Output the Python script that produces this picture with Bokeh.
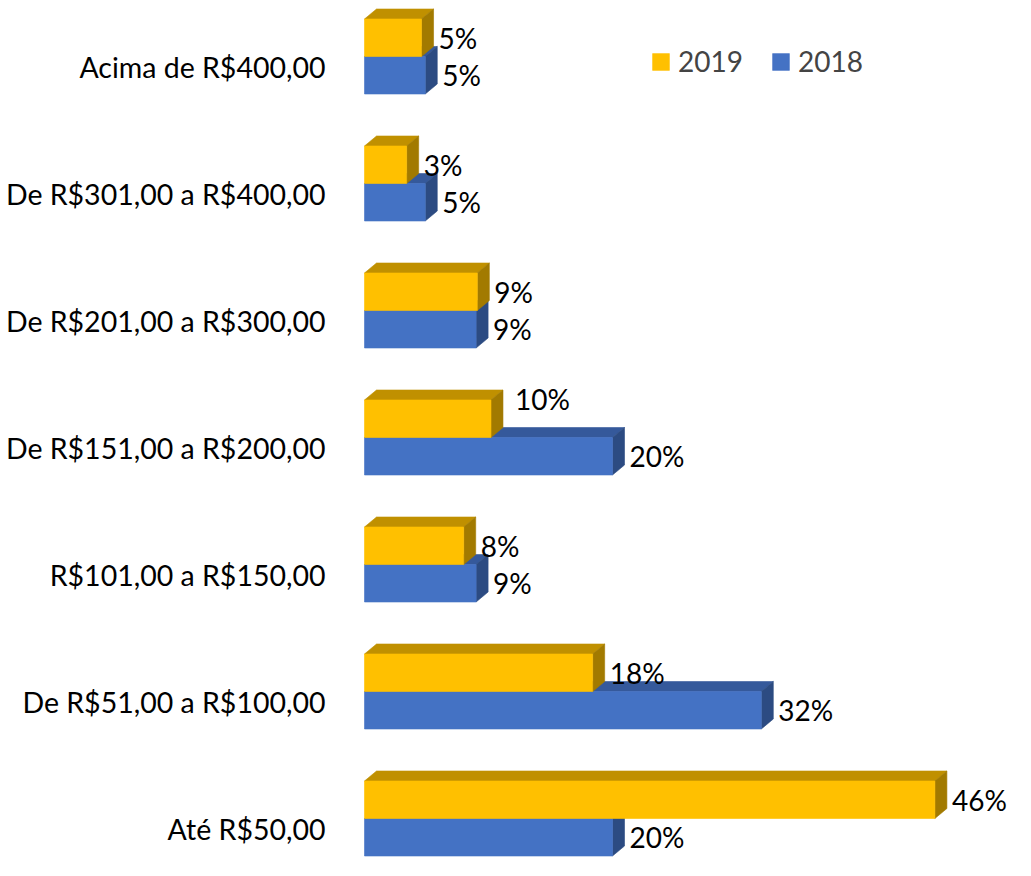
from bokeh.plotting import figure
from bokeh.models import ColumnDataSource, Range1d, Legend, LegendItem
from bokeh.core.properties import value
from bokeh.embed import file_html
from bokeh.resources import INLINE

# ---- data (bottom to top) ----
categories = ["Até R$50,00", "De R$51,00 a R$100,00", "R$101,00 a R$150,00",
              "De R$151,00 a R$200,00", "De R$201,00 a R$300,00",
              "De R$301,00 a R$400,00", "Acima de R$400,00"]
v2019 = [46.0, 18.4, 8.0, 10.2, 9.1, 3.4, 4.6]
v2018 = [20.0, 32.0, 9.0, 20.0, 9.0, 4.9, 4.9]
series = ["2019", "2018"]

# ---- layout / style ----
FONT = "Lato"
FS_CAT = "28.5px"
FS_VAL = "28px"
W, H = 1015, 860
SX, SY = 12.4, 127.0           # px per % and px per category
ORIGIN_X, BASE_Y = 364, 818    # px position of 0% and of the lowest category
X0, X1 = -ORIGIN_X / SX, (W - ORIGIN_X) / SX
Y0, Y1 = -(H - BASE_Y) / SY, BASE_Y / SY
DX_PX, DY_PX = 12, 10
DX = DX_PX / SX
DY = DY_PX / SY
BH = 37.5 / SY
LABEL_DROP = 10 / SY

COLORS = {
    "2019": ("#FFC000", "#C09000", "#A27A00"),   # front, top, side
    "2018": ("#4472C4", "#35599B", "#2C4B82"),
}
# manual nudge of single data labels (series, index) -> (dx px, dy px)
NUDGE = {("2019", 3): (7, -20)}

p = figure(width=W, height=H, output_backend="svg", toolbar_location=None,
           x_range=Range1d(X0, X1), y_range=Range1d(Y0, Y1), min_border=0)
p.axis.visible = False
p.grid.visible = False
p.outline_line_color = None
p.background_fill_color = "white"
p.border_fill_color = "white"

idx = list(range(len(categories)))


def draw_box(vals, bottoms, name):
    front_c, top_c, side_c = COLORS[name]
    tops = [b + BH for b in bottoms]
    top_xs = [[0, v, v + DX, DX] for v in vals]
    top_ys = [[t, t, t + DY, t + DY] for t in tops]
    side_xs = [[v, v + DX, v + DX, v] for v in vals]
    side_ys = [[b, b + DY, t + DY, t] for b, t in zip(bottoms, tops)]
    p.patches(top_xs, top_ys, fill_color=top_c, line_color=top_c, line_width=0.6)
    p.patches(side_xs, side_ys, fill_color=side_c, line_color=side_c, line_width=0.6)
    src = ColumnDataSource(dict(left=[0] * len(vals), right=vals,
                                bottom=bottoms, top=tops))
    r = p.quad(left="left", right="right", bottom="bottom", top="top", source=src,
               fill_color=front_c, line_color=front_c, line_width=0.6)
    xo, yo = [], []
    for i in range(len(vals)):
        nx, ny = NUDGE.get((name, i), (0, 0))
        xo.append(DX_PX + 5 + nx)
        yo.append(ny)
    lsrc = ColumnDataSource(dict(x=vals, y=[b + BH / 2 for b in bottoms],
                                 text=[f"{round(v)}%" for v in vals],
                                 xo=xo, yo=yo))
    p.text(x="x", y="y", text="text", x_offset="xo", y_offset="yo", source=lsrc,
           text_font=value(FONT), text_font_size=FS_VAL, text_color="#000000",
           text_align="left", text_baseline="middle")
    return r


r2018 = draw_box(v2018, [i - BH for i in idx], "2018")
r2019 = draw_box(v2019, [float(i) for i in idx], "2019")

# category labels
p.text(x=[0] * len(categories), y=[i - LABEL_DROP for i in idx], text=categories,
       x_offset=-39, text_font=value(FONT), text_font_size=FS_CAT, text_color="#000000",
       text_align="right", text_baseline="middle")

legend = Legend(items=[LegendItem(label=series[0], renderers=[r2019]),
                       LegendItem(label=series[1], renderers=[r2018])],
                orientation="horizontal", location=(650, 782),
                border_line_color=None, background_fill_alpha=0,
                label_text_font=FONT, label_text_font_size=FS_VAL,
                glyph_width=21, glyph_height=21, label_standoff=7,
                spacing=27, padding=0, margin=0)
p.add_layout(legend)

open("out.html", "w").write(file_html(p, INLINE))
